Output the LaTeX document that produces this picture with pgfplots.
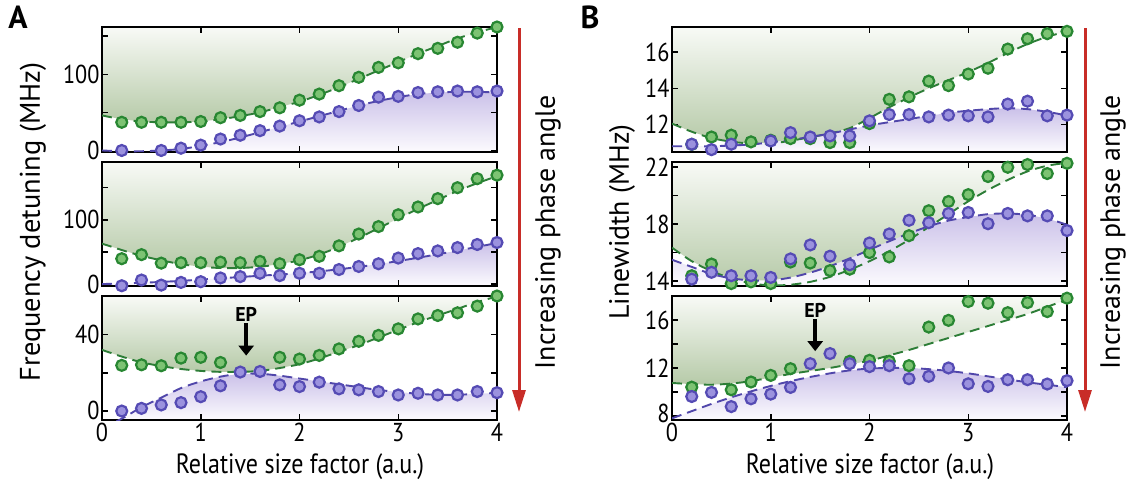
\documentclass[border=0pt]{standalone}
\usepackage{fontspec}
\setmainfont{PT Sans}[FakeStretch=0.86]
\newfontfamily\vfont{PT Sans}
\usepackage{pgfplots}
\pgfplotsset{compat=1.18}
\usetikzlibrary{arrows.meta}

\definecolor{gdark}{RGB}{40,135,50}
\definecolor{gmark}{RGB}{125,195,115}
\definecolor{gline}{RGB}{45,125,55}
\definecolor{gtop}{RGB}{248,250,246}
\definecolor{gbot}{RGB}{182,202,168}
\definecolor{pdark}{RGB}{85,75,180}
\definecolor{pmark}{RGB}{155,146,222}
\definecolor{pline}{RGB}{80,70,170}
\definecolor{ptop}{RGB}{203,193,233}
\definecolor{pbot}{RGB}{252,251,254}
\definecolor{redarrow}{RGB}{200,45,40}

\pgfplotsset{
  panel/.style={
    scale only axis, width=395bp, height=125bp, anchor=north west,
    xmin=0, xmax=4, xtick={0,1,2,3,4}, xticklabels={},
    tick align=inside, xtick pos=both, ytick pos=both,
    major tick length=6bp,
    major tick style={black, line width=1.5bp},
    axis line style={line width=2.5bp},
    set layers=standard,
    tick label style={font=\fontsize{26}{28}\selectfont},
    yticklabel style={xshift=1bp},
  },
  bottompanel/.style={xticklabels={0,1,2,3,4}},
  gfill/.style={on layer=axis background, draw=none, top color=gtop, bottom color=gbot},
  pfill/.style={on layer=axis background, draw=none, top color=ptop, bottom color=pbot},
  gfit/.style={gline, line width=1.9bp, dash pattern=on 10bp off 6bp, smooth},
  pfit/.style={pline, line width=1.9bp, dash pattern=on 10bp off 6bp, smooth},
  gpts/.style={only marks, mark=*, mark size=5.5bp, mark options={draw=gdark, fill=gmark, line width=2.2bp}},
  ppts/.style={only marks, mark=*, mark size=5.5bp, mark options={draw=pdark, fill=pmark, line width=2.2bp}},
}

\begin{document}
\begin{tikzpicture}
\path (0,0) rectangle (1131bp,-485bp);

% ---------------- A top
\begin{axis}[panel, at={(102bp,-27bp)}, ymin=-2, ymax=162,
  ytick={0,50,100,150}, yticklabels={0,,100,}]
\addplot[gfill] coordinates {(0,46)(0.2,41)(0.4,38)(0.6,37)(0.8,37)(1.0,38)(1.2,41)(1.4,45)(1.6,50)(1.8,57)(2.0,64)(2.2,73)(2.4,83)(2.6,94)(2.8,105)(3.0,116)(3.2,127)(3.4,137)(3.6,147)(3.8,155)(4.0,162)(4,162)(0,162)};
\addplot[pfill] coordinates {(0,0)(0.2,-1)(0.4,-1)(0.6,0)(0.8,2)(1.0,6)(1.2,11)(1.4,17)(1.6,24)(1.8,31)(2.0,38)(2.2,45)(2.4,52)(2.6,59)(2.8,65)(3.0,70)(3.2,74)(3.4,76)(3.6,77)(3.8,77)(4.0,76)(4,-2)(0,-2)};
\addplot[gfit] coordinates {(0,46)(0.2,41)(0.4,38)(0.6,37)(0.8,37)(1.0,38)(1.2,41)(1.4,45)(1.6,50)(1.8,57)(2.0,64)(2.2,73)(2.4,83)(2.6,94)(2.8,105)(3.0,116)(3.2,127)(3.4,137)(3.6,147)(3.8,155)(4.0,162)};
\addplot[pfit] coordinates {(0,0)(0.2,-1)(0.4,-1)(0.6,0)(0.8,2)(1.0,6)(1.2,11)(1.4,17)(1.6,24)(1.8,31)(2.0,38)(2.2,45)(2.4,52)(2.6,59)(2.8,65)(3.0,70)(3.2,74)(3.4,76)(3.6,77)(3.8,77)(4.0,76)};
\addplot[gpts] coordinates {(0.2,37)(0.4,37)(0.6,37)(0.8,37)(1.0,38)(1.2,43)(1.4,46)(1.6,51)(1.8,56)(2.0,66)(2.2,74)(2.4,85)(2.6,96)(2.8,109)(3.0,115)(3.2,127)(3.4,134)(3.6,142)(3.8,154)(4.0,162)};
\addplot[ppts] coordinates {(0.2,0)(0.4,-3)(0.6,0)(0.8,3)(1.0,7)(1.2,15)(1.4,20)(1.6,26)(1.8,32)(2.0,39)(2.2,44)(2.4,51)(2.6,59)(2.8,70)(3.0,71)(3.2,76)(3.4,77)(3.6,78)(3.8,77)(4.0,78)};
\end{axis}

% ---------------- A middle
\begin{axis}[panel, at={(102bp,-162bp)}, height=124bp, ymin=-3, ymax=190,
  ytick={0,50,100,150}, yticklabels={0,,100,}]
\addplot[gfill] coordinates {(0,63)(0.2,53)(0.4,44)(0.6,37)(0.8,31)(1.0,27)(1.2,25)(1.4,25)(1.6,27)(1.8,31)(2.0,37)(2.2,46)(2.4,58)(2.6,72)(2.8,87)(3.0,102)(3.2,117)(3.4,131)(3.6,145)(3.8,157)(4.0,168)(4,190)(0,190)};
\addplot[pfill] coordinates {(0,0)(0.4,2)(0.8,5)(1.2,9)(1.6,13)(2.0,17)(2.4,23)(2.8,31)(3.2,41)(3.6,52)(4.0,64)(4,-3)(0,-3)};
\addplot[gfit] coordinates {(0,63)(0.2,53)(0.4,44)(0.6,37)(0.8,31)(1.0,27)(1.2,25)(1.4,25)(1.6,27)(1.8,31)(2.0,37)(2.2,46)(2.4,58)(2.6,72)(2.8,87)(3.0,102)(3.2,117)(3.4,131)(3.6,145)(3.8,157)(4.0,168)};
\addplot[pfit] coordinates {(0,0)(0.4,2)(0.8,5)(1.2,9)(1.6,13)(2.0,17)(2.4,23)(2.8,31)(3.2,41)(3.6,52)(4.0,64)};
\addplot[gpts] coordinates {(0.2,39.5)(0.4,45.8)(0.6,32.6)(0.8,33.2)(1.0,33.2)(1.2,34.2)(1.4,33.2)(1.6,35.3)(1.8,31.6)(2.0,37.9)(2.2,43.2)(2.4,59.5)(2.6,77.9)(2.8,89.5)(3.0,107.9)(3.2,120)(3.4,133)(3.6,150)(3.8,164)(4.0,169.5)};
\addplot[ppts] coordinates {(0.2,-2.6)(0.4,6.3)(0.6,-1.6)(0.8,2.6)(1.0,3.7)(1.2,9.5)(1.4,11.6)(1.6,16.8)(1.8,13.2)(2.0,16.8)(2.2,16.8)(2.4,22.6)(2.6,27.4)(2.8,31.6)(3.0,40.5)(3.2,47.4)(3.4,51.6)(3.6,56.8)(3.8,61.6)(4.0,64.7)};
\end{axis}

% ---------------- A bottom
\begin{axis}[panel, bottompanel, at={(102bp,-296bp)}, height=124bp, ymin=-4.7, ymax=60.2,
  ytick={0,20,40,60}, yticklabels={\raisebox{2bp}{0},,40,}]
\addplot[gfill] coordinates {(0,32)(0.2,28.5)(0.4,25.5)(0.6,23.5)(0.8,22)(1.0,21)(1.2,20.5)(1.4,20.5)(1.6,21)(1.8,22.5)(2.0,24.5)(2.2,27.5)(2.4,31)(2.6,34.5)(2.8,38.5)(3.0,42.5)(3.2,46.5)(3.4,50)(3.6,53.5)(3.8,57)(4.0,60)(4,60.2)(0,60.2)};
\addplot[pfill] coordinates {(0.2,-4.7)(0.4,2)(0.6,7)(0.8,12)(1.0,15.5)(1.2,18)(1.4,19.5)(1.6,19.5)(1.8,18.5)(2.0,17)(2.2,15.5)(2.4,14)(2.6,12.5)(2.8,11)(3.0,10)(3.2,9)(3.4,8.5)(3.6,8.5)(3.8,9)(4.0,9.5)(4,-4.7)};
\addplot[gfit] coordinates {(0,32)(0.2,28.5)(0.4,25.5)(0.6,23.5)(0.8,22)(1.0,21)(1.2,20.5)(1.4,20.5)(1.6,21)(1.8,22.5)(2.0,24.5)(2.2,27.5)(2.4,31)(2.6,34.5)(2.8,38.5)(3.0,42.5)(3.2,46.5)(3.4,50)(3.6,53.5)(3.8,57)(4.0,60)};
\addplot[pfit] coordinates {(0,-9)(0.2,-4)(0.4,2)(0.6,7)(0.8,12)(1.0,15.5)(1.2,18)(1.4,19.5)(1.6,19.5)(1.8,18.5)(2.0,17)(2.2,15.5)(2.4,14)(2.6,12.5)(2.8,11)(3.0,10)(3.2,9)(3.4,8.5)(3.6,8.5)(3.8,9)(4.0,9.5)};
\addplot[gpts] coordinates {(0.2,23.9)(0.4,24.2)(0.6,23.7)(0.8,27.7)(1.0,28.1)(1.2,25.4)(1.8,28.1)(2.0,27.2)(2.2,29.1)(2.4,32.5)(2.6,36.5)(2.8,39.6)(3.0,43)(3.2,48.2)(3.4,50)(3.6,51.4)(3.8,54.9)(4.0,60.2)};
\addplot[ppts] coordinates {(0.2,0)(0.4,1.4)(0.6,3.2)(0.8,4.4)(1.0,7.5)(1.2,13.2)(1.4,20.4)(1.6,20.7)(1.8,13.7)(2.0,12.8)(2.2,15.1)(2.4,11.6)(2.6,11.1)(2.8,10.2)(3.0,8.4)(3.2,9.3)(3.4,8.4)(3.6,8.4)(3.8,10.2)(4.0,9.6)};
\node[font=\vfont\bfseries\fontsize{20}{22}\selectfont] at (axis cs:1.46,50.5) {EP};
\draw[line width=4bp, -{Triangle[length=10bp,width=15bp]}] (axis cs:1.46,46) -- (axis cs:1.46,29);
\end{axis}

% ---------------- B top
\begin{axis}[panel, at={(672bp,-27bp)}, ymin=10.48, ymax=17.39,
  ytick={12,14,16}, yticklabels={12,14,16}]
\addplot[gfill] coordinates {(0,12.05)(0.2,11.6)(0.4,11.25)(0.6,11.05)(0.8,10.95)(1.0,10.95)(1.2,11.1)(1.4,11.3)(1.6,11.5)(1.8,11.8)(2.0,12.35)(2.2,12.95)(2.4,13.5)(2.6,14.0)(2.8,14.45)(3.0,14.9)(3.2,15.4)(3.4,15.95)(3.6,16.45)(3.8,16.85)(4.0,17.15)(4,17.39)(0,17.39)};
\addplot[pfill] coordinates {(0,10.8)(0.4,10.8)(0.8,10.9)(1.2,11.15)(1.6,11.5)(2.0,11.95)(2.4,12.3)(2.8,12.65)(3.2,12.85)(3.4,12.9)(3.6,12.85)(3.8,12.7)(4.0,12.5)(4,10.48)(0,10.48)};
\addplot[gfit] coordinates {(0,12.05)(0.2,11.6)(0.4,11.25)(0.6,11.05)(0.8,10.95)(1.0,10.95)(1.2,11.1)(1.4,11.3)(1.6,11.5)(1.8,11.8)(2.0,12.35)(2.2,12.95)(2.4,13.5)(2.6,14.0)(2.8,14.45)(3.0,14.9)(3.2,15.4)(3.4,15.95)(3.6,16.45)(3.8,16.85)(4.0,17.15)};
\addplot[pfit] coordinates {(0,10.8)(0.4,10.8)(0.8,10.9)(1.2,11.15)(1.6,11.5)(2.0,11.95)(2.4,12.3)(2.8,12.65)(3.2,12.85)(3.4,12.9)(3.6,12.85)(3.8,12.7)(4.0,12.5)};
\addplot[gpts] coordinates {(0.2,10.9)(0.4,11.31)(0.6,11.41)(0.8,11.04)(1.0,11.13)(1.2,11.22)(1.4,11.22)(1.6,11.0)(1.8,11.0)(2.0,12.05)(2.2,13.39)(2.4,13.53)(2.6,14.4)(2.8,14.15)(3.0,14.79)(3.2,15.11)(3.4,16.17)(3.6,16.74)(3.8,17.02)(4.0,17.15)};
\addplot[ppts] coordinates {(0.2,10.91)(0.4,10.61)(0.6,10.91)(0.8,10.44)(1.0,11.09)(1.2,11.55)(1.4,11.31)(1.6,11.37)(1.8,11.37)(2.0,12.2)(2.2,12.55)(2.4,12.55)(2.6,12.42)(2.8,12.52)(3.0,12.48)(3.2,12.42)(3.4,13.13)(3.6,13.29)(3.8,12.48)(4.0,12.52)};
\end{axis}

% ---------------- B middle
\begin{axis}[panel, at={(672bp,-162bp)}, height=124bp, ymin=13.66, ymax=22.36,
  ytick={14,16,18,20,22}, yticklabels={14,,18,,22}]
\addplot[gfill] coordinates {(0,16.35)(0.2,15.4)(0.4,14.7)(0.6,14.2)(0.8,13.85)(1.0,13.7)(1.2,13.75)(1.4,13.95)(1.6,14.3)(1.8,14.8)(2.0,15.4)(2.2,16.1)(2.4,16.9)(2.6,17.8)(2.8,18.7)(3.0,19.6)(3.2,20.4)(3.4,21.1)(3.6,21.7)(3.8,22.1)(4.0,22.3)(4,22.36)(0,22.36)};
\addplot[pfill] coordinates {(0,15.5)(0.2,15.0)(0.4,14.5)(0.6,14.2)(0.8,14.05)(1.0,14.05)(1.2,14.25)(1.4,14.6)(1.6,15.05)(1.8,15.6)(2.0,16.2)(2.2,16.8)(2.4,17.35)(2.6,17.85)(2.8,18.25)(3.0,18.5)(3.2,18.7)(3.4,18.75)(3.6,18.65)(3.8,18.4)(4.0,17.95)(4,13.66)(0,13.66)};
\addplot[gfit] coordinates {(0,16.35)(0.2,15.4)(0.4,14.7)(0.6,14.2)(0.8,13.85)(1.0,13.7)(1.2,13.75)(1.4,13.95)(1.6,14.3)(1.8,14.8)(2.0,15.4)(2.2,16.1)(2.4,16.9)(2.6,17.8)(2.8,18.7)(3.0,19.6)(3.2,20.4)(3.4,21.1)(3.6,21.7)(3.8,22.1)(4.0,22.3)};
\addplot[pfit] coordinates {(0,15.5)(0.2,15.0)(0.4,14.5)(0.6,14.2)(0.8,14.05)(1.0,14.05)(1.2,14.25)(1.4,14.6)(1.6,15.05)(1.8,15.6)(2.0,16.2)(2.2,16.8)(2.4,17.35)(2.6,17.85)(2.8,18.25)(3.0,18.5)(3.2,18.7)(3.4,18.75)(3.6,18.65)(3.8,18.4)(4.0,17.95)};
\addplot[gpts] coordinates {(0.2,14.38)(0.4,15.2)(0.6,13.83)(0.8,13.95)(1.0,13.83)(1.2,15.34)(1.4,15.27)(1.6,14.74)(1.8,14.84)(2.0,16.0)(2.2,15.7)(2.4,17.19)(2.6,18.94)(2.8,19.59)(3.0,20.07)(3.2,21.34)(3.4,21.99)(3.6,22.18)(3.8,21.55)(4.0,22.27)};
\addplot[ppts] coordinates {(0.2,14.14)(0.4,14.62)(0.6,14.38)(0.8,14.38)(1.0,14.26)(1.2,15.56)(1.4,16.54)(1.6,15.75)(1.8,15.15)(2.0,16.68)(2.2,17.31)(2.4,18.27)(2.6,18.1)(2.8,18.75)(3.0,18.82)(3.2,18.03)(3.4,18.75)(3.6,18.58)(3.8,18.58)(4.0,17.55)};
\end{axis}

% ---------------- B bottom
\begin{axis}[panel, bottompanel, at={(672bp,-296bp)}, height=124bp, ymin=7.66, ymax=18.0,
  ytick={8,10,12,14,16}, yticklabels={\raisebox{5bp}{8},,12,,16}]
\addplot[gfill] coordinates {(0,10.75)(0.2,10.65)(0.4,10.6)(0.6,10.7)(0.8,10.9)(1.0,11.2)(1.2,11.5)(1.4,11.75)(1.6,12.0)(1.8,12.3)(2.0,12.6)(2.2,13.05)(2.4,13.5)(2.6,14.0)(2.8,14.5)(3.0,15.0)(3.2,15.5)(3.4,16.0)(3.6,16.5)(3.8,17.1)(4.0,17.7)(4,18)(0,18)};
\addplot[pfill] coordinates {(0,7.8)(0.2,8.4)(0.4,9.0)(0.6,9.55)(0.8,10.05)(1.0,10.5)(1.2,10.9)(1.4,11.25)(1.6,11.55)(1.8,11.8)(2.0,11.95)(2.2,12.0)(2.4,12.0)(2.6,11.9)(2.8,11.75)(3.0,11.55)(3.2,11.3)(3.4,11.05)(3.6,10.8)(3.8,10.6)(4.0,10.4)(4,7.66)(0,7.66)};
\addplot[gfit] coordinates {(0,10.75)(0.2,10.65)(0.4,10.6)(0.6,10.7)(0.8,10.9)(1.0,11.2)(1.2,11.5)(1.4,11.75)(1.6,12.0)(1.8,12.3)(2.0,12.6)(2.2,13.05)(2.4,13.5)(2.6,14.0)(2.8,14.5)(3.0,15.0)(3.2,15.5)(3.4,16.0)(3.6,16.5)(3.8,17.1)(4.0,17.7)};
\addplot[pfit] coordinates {(0,7.8)(0.2,8.4)(0.4,9.0)(0.6,9.55)(0.8,10.05)(1.0,10.5)(1.2,10.9)(1.4,11.25)(1.6,11.55)(1.8,11.8)(2.0,11.95)(2.2,12.0)(2.4,12.0)(2.6,11.9)(2.8,11.75)(3.0,11.55)(3.2,11.3)(3.4,11.05)(3.6,10.8)(3.8,10.6)(4.0,10.4)};
\addplot[gpts] coordinates {(0.2,10.4)(0.6,10.18)(0.8,10.83)(1.0,11.38)(1.2,11.94)(1.8,12.56)(2.0,12.64)(2.2,12.56)(2.4,12.19)(2.6,15.41)(2.8,15.97)(3.0,17.54)(3.2,17.4)(3.4,16.61)(3.6,17.45)(3.8,16.7)(4.0,17.82)};
\addplot[ppts] coordinates {(0.2,9.62)(0.4,9.96)(0.6,8.78)(0.8,9.43)(1.0,9.82)(1.2,10.38)(1.4,12.36)(1.6,13.2)(1.8,12.36)(2.0,12.11)(2.2,12.19)(2.4,11.1)(2.6,11.3)(2.8,12.0)(3.0,10.68)(3.2,10.46)(3.4,11.02)(3.6,11.02)(3.8,10.66)(4.0,10.94)};
\node[font=\vfont\bfseries\fontsize{20}{22}\selectfont] at (axis cs:1.45,16.8) {EP};
\draw[line width=4bp, -{Triangle[length=10bp,width=15bp]}] (axis cs:1.45,16.05) -- (axis cs:1.45,13.4);
\end{axis}

% ---------------- labels and arrows
\node[font=\vfont\bfseries\fontsize{32}{34}\selectfont] at (18bp,-17bp) {A};
\node[font=\vfont\bfseries\fontsize{32}{34}\selectfont] at (590bp,-17bp) {B};
\node[rotate=90, font=\vfont\fontsize{28.5}{30}\selectfont] at (33bp,-222bp) {Frequency detuning (MHz)};
\node[rotate=90, font=\vfont\fontsize{28}{30}\selectfont] at (622bp,-222bp) {Linewidth (MHz)};
\node[font=\fontsize{28}{30}\selectfont] at (300bp,-467bp) {Relative size factor (a.u.)};
\node[font=\fontsize{28}{30}\selectfont] at (870bp,-467bp) {Relative size factor (a.u.)};
\draw[redarrow, line width=3bp, -{Triangle[length=22bp,width=13bp]}] (519bp,-28bp) -- (519bp,-412bp);
\draw[redarrow, line width=3bp, -{Triangle[length=22bp,width=13bp]}] (1085bp,-28bp) -- (1085bp,-412bp);
\node[rotate=90, font=\vfont\fontsize{28}{30}\selectfont] at (548bp,-232bp) {Increasing phase angle};
\node[rotate=90, font=\vfont\fontsize{28}{30}\selectfont] at (1113bp,-232bp) {Increasing phase angle};
\end{tikzpicture}
\end{document}
